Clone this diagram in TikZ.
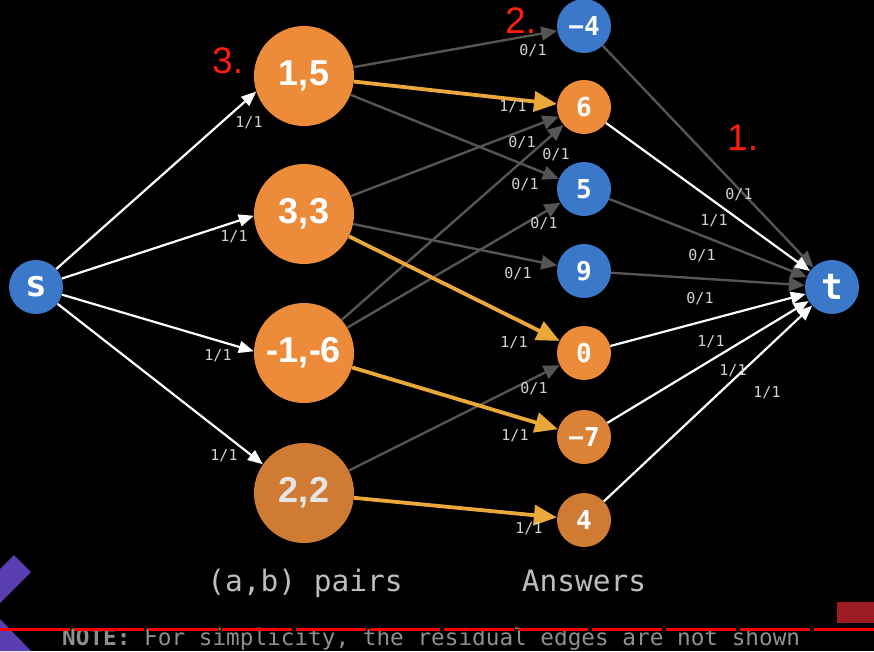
\documentclass[tikz,border=0pt]{standalone}
\usepackage{fontspec}
\setsansfont{Liberation Sans}
\setmonofont{DejaVu Sans Mono}
\usetikzlibrary{arrows.meta}

\definecolor{pairfill}{HTML}{EC8C3A}
\definecolor{pairdark}{HTML}{D07B34}
\definecolor{nodeblue}{HTML}{3B78C9}
\definecolor{edgegray}{HTML}{555555}
\definecolor{pathgold}{HTML}{EAA83A}
\definecolor{labelgray}{HTML}{D2D2D2}
\definecolor{stepred}{HTML}{FF1E0A}
\definecolor{captiongray}{HTML}{BDBDBD}
\definecolor{notegray}{HTML}{8F8F8F}
\definecolor{logopurple}{HTML}{5A3FB2}
\definecolor{boxred}{HTML}{9C1C22}

\begin{document}
\begin{tikzpicture} [x=1pt, y=-1pt,
	pair/.style={circle, fill=pairfill, minimum size=100pt, inner sep=0pt, text=white, font=\sffamily\bfseries\fontsize{36}{36}\selectfont},
	answer/.style={circle, fill=pairfill, minimum size=54pt, inner sep=0pt, text=white, font=\ttfamily\bfseries\fontsize{26}{26}\selectfont},
	endpoint/.style={circle, fill=nodeblue, minimum size=54pt, inner sep=0pt, text=white, font=\ttfamily\bfseries\fontsize{36}{36}\selectfont},
	usededge/.style={draw=white, line width=2.2pt, -{Triangle[length=15pt, width=12pt]}},
	idleedge/.style={draw=edgegray, line width=2.4pt, -{Triangle[length=16pt, width=14pt]}},
	pathedge/.style={draw=pathgold, line width=3.8pt, -{Triangle[length=23pt, width=20pt]}},
	flowlbl/.style={text=labelgray, font=\ttfamily\fontsize{15}{15}\selectfont, inner sep=0pt},
	steptag/.style={text=stepred, font=\sffamily\fontsize{37}{37}\selectfont, inner sep=0pt, anchor=base west},
	groupname/.style={text=captiongray, font=\ttfamily\fontsize{29.5}{29.5}\selectfont, inner sep=0pt, anchor=base}]
	\useasboundingbox (0, 0) rectangle (874, 651);
	\fill[black] (0, 0) rectangle (874, 651);

	\node[endpoint] (s) at (36, 287) {s};
	\node[endpoint] (t) at (832, 287) {t};
		\node[pair] (p15) at (304, 76) {1,5};
		\node[pair] (p33) at (304, 214) {3,3};
		\node[pair] (pm16) at (304, 353) {-1,-6};
		\node[pair, fill=pairdark, text=white!90!black] (p22) at (304, 493) {2,2};
	\node[answer, fill=nodeblue] (am4) at (584, 26) {−4};
	\node[answer] (a6) at (584, 107) {6};
	\node[answer, fill=nodeblue] (a5) at (584, 189) {5};
	\node[answer, fill=nodeblue] (a9) at (584, 271) {9};
	\node[answer] (a0) at (584, 353) {0};
	\node[answer, fill=pairfill!93!black] (am7) at (584, 437) {−7};
	\node[answer, fill=pairdark] (a4) at (584, 520) {4};

		\draw[idleedge] (p15) -- (am4);
		\draw[idleedge] (p15) -- (a5);
		\draw[idleedge] (p33) -- (a6);
		\draw[idleedge] (p33) -- (a9);
		\draw[idleedge] (pm16) -- (a6);
		\draw[idleedge] (pm16) -- (a5);
		\draw[idleedge] (p22) -- (a0);
		\draw[idleedge] (am4) -- (t);
		\draw[idleedge] (a5) -- (t);
		\draw[idleedge] (a9) -- (t);
	\draw[usededge] (s) -- (p15.198);
	\draw[usededge] (s) -- (p33.182);
	\draw[usededge] (s) -- (pm16.178);
	\draw[usededge] (s) -- (p22.145);
	\draw[usededge] (a6) -- (t);
	\draw[usededge] (a0) -- (t);
	\draw[usededge] (am7) -- (t);
	\draw[usededge] (a4) -- (t);
		\draw[pathedge] (p15) -- (a6);
		\draw[pathedge] (p33) -- (a0);
		\draw[pathedge] (pm16) -- (am7);
		\draw[pathedge] (p22) -- (a4);

	\node[flowlbl] (f1) at (249, 123) {1/1};
	\node[flowlbl] (f2) at (234, 237) {1/1};
	\node[flowlbl] (f3) at (218, 356) {1/1};
	\node[flowlbl] (f4) at (224, 456) {1/1};
		\node[flowlbl] (f5) at (533, 51) {0/1};
		\node[flowlbl] (f6) at (513, 107) {1/1};
		\node[flowlbl] (f7) at (522, 143) {0/1};
		\node[flowlbl] (f8) at (556, 155) {0/1};
		\node[flowlbl] (f9) at (525, 185) {0/1};
		\node[flowlbl] (f10) at (544, 224) {0/1};
		\node[flowlbl] (f11) at (518, 274) {0/1};
		\node[flowlbl] (f12) at (514, 343) {1/1};
		\node[flowlbl] (f13) at (534, 389) {0/1};
		\node[flowlbl] (f14) at (515, 436) {1/1};
		\node[flowlbl] (f15) at (529, 529) {1/1};
	\node[flowlbl] (f16) at (739, 195) {0/1};
	\node[flowlbl] (f17) at (714, 221) {1/1};
	\node[flowlbl] (f18) at (702, 256) {0/1};
	\node[flowlbl] (f19) at (700, 299) {0/1};
	\node[flowlbl] (f20) at (711, 342) {1/1};
	\node[flowlbl] (f21) at (733, 371) {1/1};
	\node[flowlbl] (f22) at (767, 393) {1/1};

	\node[steptag] (tag3) at (212, 73) {3.};
	\node[steptag] (tag2) at (505, 33) {2.};
	\node[steptag] (tag1) at (727, 150) {1.};

	\node[groupname] (pairs) at (305, 591) {(a,b) pairs};
	\node[groupname] (answers) at (584, 591) {Answers};

	\fill[logopurple] (14, 555) -- (31, 572) -- (0, 603) -- (0, 569) -- cycle;
	\fill[logopurple] (0, 619) -- (31, 651) -- (0, 651) -- cycle;
	\fill[boxred] (837, 602) rectangle (874, 623);
	\node[anchor=base west, inner sep=0pt, text=notegray, font=\ttfamily\fontsize{22.7}{22.7}\selectfont] (note) at (62, 645) {\textbf{NOTE:} For simplicity, the residual edges are not shown};
	\draw[red, line width=3pt, dash pattern=on 70pt off 4pt] (0, 629) -- (874, 629);
\end{tikzpicture}
\end{document}
